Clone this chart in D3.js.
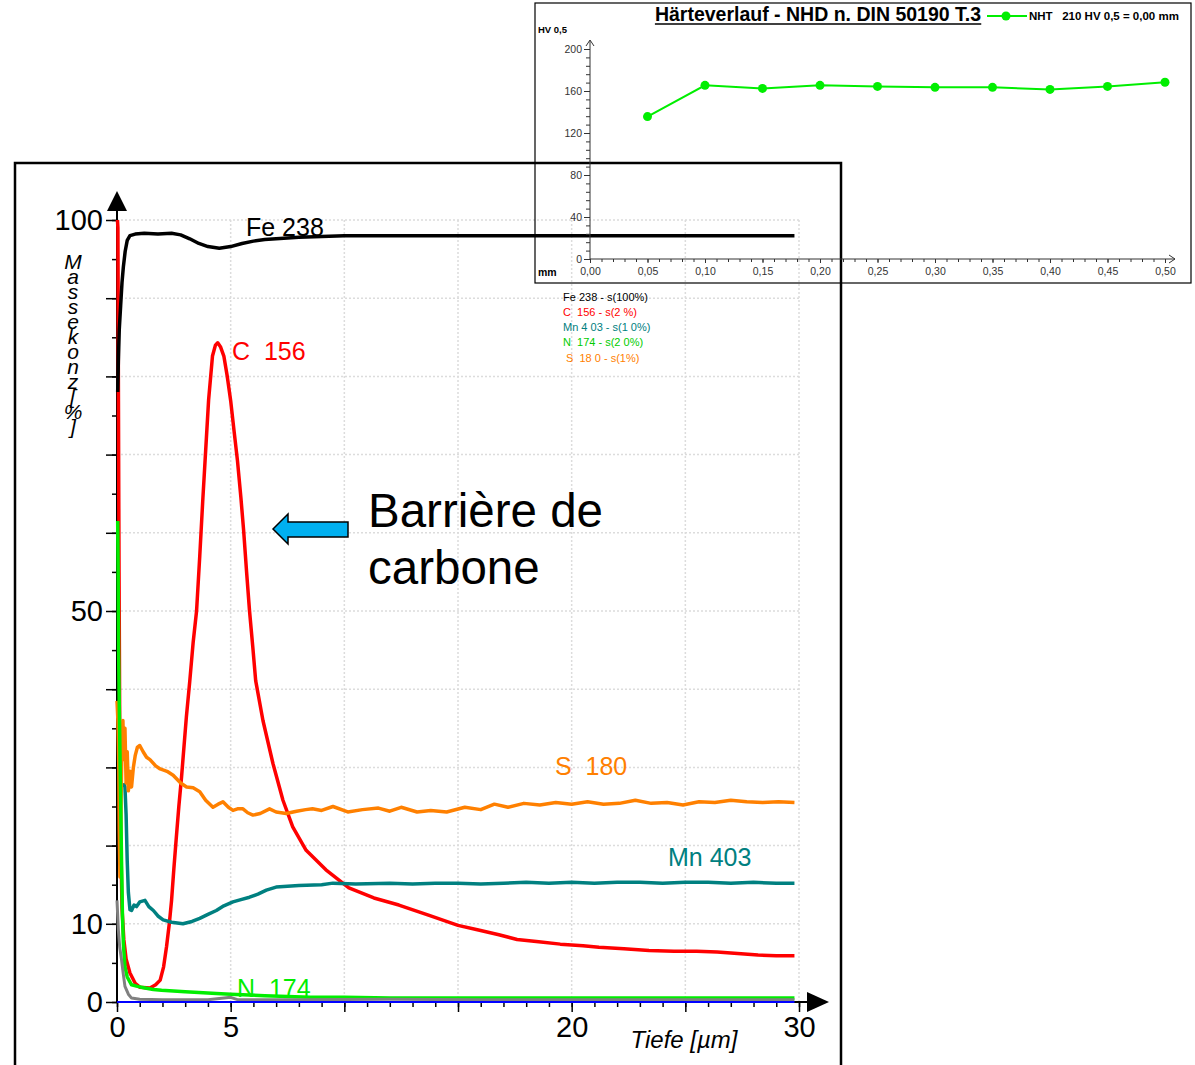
<!DOCTYPE html>
<html>
<head>
<meta charset="utf-8">
<script src="https://cdn.jsdelivr.net/npm/d3@7"></script>
<style>
  body { margin: 0; background: #fff; }
  svg { display: block; font-family: "Liberation Sans", Arial, sans-serif; }
</style>
</head>
<body>
<div id="chart"></div>
<script>
// ---- GDOES depth profile: [depth in µm, mass %] ----
var feData = [[0.03,78],[0.06,82],[0.1,86],[0.16,89],[0.22,92],[0.28,94],[0.36,96],[0.45,97.4],[0.57,98],[0.8,98.2],[1.2,98.3],[1.8,98.2],[2.4,98.3],[2.8,98.1],[3.2,97.6],[3.6,97.0],[4.0,96.6],[4.5,96.4],[5.0,96.6],[5.5,97.0],[6.0,97.3],[6.5,97.5],[7.0,97.6],[8.0,97.8],[9,97.9],[10,98.0],[12,98.0],[15,98.0],[18,98.0],[20,98.0],[25,98.0],[29.8,98.0]];
var cData = [[0.02,100],[0.04,99],[0.06,80],[0.09,55],[0.12,35],[0.16,22],[0.22,12],[0.3,8],[0.4,5.5],[0.57,3.7],[0.8,2.4],[1.0,1.9],[1.45,1.8],[1.7,2.2],[1.9,2.8],[2.05,4.5],[2.18,7.1],[2.3,10],[2.4,13],[2.5,17],[2.6,20.7],[2.72,25],[2.84,28.8],[3.05,36.4],[3.2,41],[3.35,46],[3.5,50],[3.64,57],[3.77,64],[3.9,70.5],[4.03,77],[4.2,82.6],[4.33,84],[4.43,84.3],[4.55,83.8],[4.7,82.6],[4.85,80],[5.0,76.9],[5.15,73],[5.3,69.2],[5.45,64.5],[5.57,60.3],[5.7,55],[5.83,50],[5.97,45.5],[6.1,41.1],[6.42,36],[6.86,30.5],[7.3,25.8],[7.73,22.4],[8.32,19.4],[9.19,16.9],[10.2,14.6],[11.3,13.3],[12.4,12.4],[13.7,11.1],[15.0,9.8],[15.9,9.2],[16.8,8.6],[17.6,8.0],[18.55,7.7],[19.5,7.4],[20.5,7.2],[21.2,7.0],[22.3,6.8],[23.4,6.6],[24.5,6.5],[25.5,6.5],[26.4,6.4],[27.3,6.2],[28.2,6.0],[29,5.9],[29.8,5.9]];
var mnData = [[0.3,28],[0.35,27.5],[0.4,24],[0.45,18],[0.5,14],[0.57,11.8],[0.64,11.7],[0.75,12.4],[0.86,12.2],[1.0,12.8],[1.23,13.0],[1.4,12.2],[1.6,11.7],[1.8,11.0],[2.03,10.5],[2.4,10.2],[2.9,10.0],[3.3,10.3],[3.64,10.7],[4.0,11.2],[4.37,11.7],[4.7,12.3],[5.1,12.8],[5.45,13.1],[5.83,13.4],[6.2,13.8],[6.57,14.3],[7.0,14.7],[7.5,14.8],[8.0,14.9],[9.0,15.0],[9.5,15.2],[10.5,15.1],[12,15.2],[13,15.1],[14,15.2],[15,15.2],[16,15.1],[17,15.2],[18,15.3],[19,15.2],[20,15.3],[21,15.2],[22,15.3],[23,15.3],[24,15.2],[25,15.3],[26,15.3],[27,15.2],[28,15.3],[29,15.2],[29.8,15.2]];
var nData = [[0.03,61.5],[0.05,55],[0.07,45],[0.1,38],[0.15,28],[0.2,18],[0.24,11],[0.28,7.5],[0.35,4.5],[0.45,3.2],[0.64,2.2],[0.9,2.0],[1.23,1.8],[1.6,1.6],[1.96,1.5],[3.0,1.3],[3.6,1.2],[4.37,1.1],[5.0,1.0],[5.8,0.9],[6.5,0.8],[7.5,0.7],[8.5,0.6],[10,0.6],[12,0.5],[15,0.5],[18,0.5],[21,0.5],[24,0.5],[27,0.5],[29.8,0.5]];
var sData = [[0.0,38.5],[0.04,36],[0.08,30],[0.1,22],[0.13,16],[0.17,24],[0.22,33],[0.26,36],[0.3,31],[0.35,35],[0.4,28],[0.45,32],[0.5,27],[0.57,29.5],[0.64,27.5],[0.72,30],[0.8,31.5],[0.9,32.6],[1.0,32.8],[1.15,32.0],[1.3,31.3],[1.45,31.0],[1.7,30.2],[1.9,29.8],[2.2,29.5],[2.47,29.0],[2.8,28.0],[3.06,27.5],[3.35,27.4],[3.64,26.9],[3.9,25.8],[4.22,24.9],[4.45,25.3],[4.66,25.6],[4.9,24.9],[5.1,24.5],[5.3,24.7],[5.54,24.7],[5.75,24.2],[5.98,23.9],[6.3,24.1],[6.71,24.7],[7.0,24.3],[7.44,24.1],[7.9,24.4],[8.3,24.6],[8.6,24.7],[9.0,24.5],[9.5,25.0],[10.15,24.3],[10.8,24.6],[11.5,24.8],[12,24.4],[12.5,24.9],[13.2,24.3],[13.8,24.5],[14.5,24.3],[15.3,24.9],[16,24.6],[16.6,25.3],[17.2,24.9],[17.9,25.4],[18.6,25.2],[19.3,25.5],[20,25.3],[20.7,25.6],[21.4,25.3],[22.1,25.4],[22.8,25.8],[23.5,25.4],[24.2,25.5],[24.9,25.2],[25.6,25.6],[26.3,25.5],[27,25.8],[27.7,25.6],[28.4,25.5],[29.1,25.6],[29.8,25.5]];
var greyData = [[0.0,13],[0.06,9.2],[0.12,7],[0.2,5.4],[0.28,3.5],[0.35,2],[0.5,1],[0.64,0.5],[1,0.35],[2,0.3],[4,0.3],[5,0.6],[5.3,0.3],[8,0.3],[12,0.35],[16,0.3],[20,0.3],[25,0.3],[29.8,0.3]];
var blueData = [[0,0],[29.8,0]];

var yTickLabels = [0, 10, 50, 100];
var xTickLabels = [0, 5, 20, 30];

var legendLabels = ["Fe 238 - s(100%)", "C  156 - s(2 %)", "Mn 4 03 - s(1 0%)", "N  174 - s(2 0%)", " S  18 0 - s(1%)"];
var yLabelLetters = ["M","a","s","s","e","k","o","n","z","[","%","]"];

// ---- hardness profile (inset) ----
var hvDepth = [0.05, 0.10, 0.15, 0.20, 0.25, 0.30, 0.35, 0.40, 0.45, 0.50];
var hvValue = [135.6, 165.4, 162.5, 165.4, 164.4, 163.5, 163.5, 161.5, 164.4, 168.3];

var svg = d3.select("#chart").append("svg")
    .attr("width", 1195)
    .attr("height", 1065);

// main chart scales
var x = d3.scaleLinear().domain([0, 30]).range([117, 799]);
var y = d3.scaleLinear().domain([0, 100]).range([1002, 220]);

// frame
svg.append("rect")
    .attr("x", 15).attr("y", 163)
    .attr("width", 826).attr("height", 1000)
    .attr("fill", "none").attr("stroke", "#000").attr("stroke-width", 2.5);

// gridlines
var grid = svg.append("g").attr("stroke", "#dcdcdc").attr("stroke-width", 1.5).attr("stroke-dasharray", "2,2");
grid.selectAll(".gh").data(d3.range(10, 101, 10)).enter().append("line")
    .attr("x1", x(0)).attr("x2", x(30))
    .attr("y1", function(d) { return y(d); }).attr("y2", function(d) { return y(d); });
grid.selectAll(".gv").data(d3.range(5, 31, 5)).enter().append("line")
    .attr("y1", y(0)).attr("y2", y(100))
    .attr("x1", function(d) { return x(d); }).attr("x2", function(d) { return x(d); });

// axes
var yMinor = svg.append("g").attr("transform", "translate(" + x(0) + ",0)")
    .call(d3.axisLeft(y).tickValues(d3.range(0, 101, 5)).tickSize(5).tickFormat(""));
var yMajor = svg.append("g").attr("transform", "translate(" + x(0) + ",0)")
    .call(d3.axisLeft(y).tickValues(d3.range(0, 101, 10)).tickSize(11).tickPadding(3)
        .tickFormat(function(d) { return yTickLabels.indexOf(d) >= 0 ? d : ""; }));
var xMinor = svg.append("g").attr("transform", "translate(0," + y(0) + ")")
    .call(d3.axisBottom(x).tickValues(d3.range(0, 31, 1)).tickSize(5).tickFormat(""));
var xMajor = svg.append("g").attr("transform", "translate(0," + y(0) + ")")
    .call(d3.axisBottom(x).tickValues(d3.range(0, 31, 5)).tickSize(10).tickPadding(4)
        .tickFormat(function(d) { return xTickLabels.indexOf(d) >= 0 ? d : ""; }));
[yMinor, yMajor, xMinor, xMajor].forEach(function(a) {
    a.select(".domain").remove();
    a.selectAll("line").attr("stroke", "#000").attr("stroke-width", 1.5);
    a.selectAll("text").attr("font-size", 29).attr("font-family", "Liberation Sans").attr("fill", "#000");
});

// axis lines with arrows
svg.append("line").attr("x1", x(0)).attr("x2", x(0)).attr("y1", y(0)).attr("y2", 205)
    .attr("stroke", "#000").attr("stroke-width", 2);
svg.append("path").attr("d", "M117,191L107,211L127,211Z").attr("fill", "#000");
svg.append("line").attr("x1", x(0)).attr("x2", 815).attr("y1", y(0)).attr("y2", y(0))
    .attr("stroke", "#000").attr("stroke-width", 2);
svg.append("path").attr("d", "M829,1002L807,992L807,1012Z").attr("fill", "#000");

// curves
var line = d3.line().x(function(d) { return x(d[0]); }).y(function(d) { return y(d[1]); });
var series = [
    {data: cData, color: "#ff0000", w: 3.5},
    {data: mnData, color: "#008080", w: 3.5},
    {data: sData, color: "#ff8000", w: 3.5},
    {data: nData, color: "#00ee00", w: 3.5},
    {data: feData, color: "#000000", w: 3.5},
    {data: greyData, color: "#808080", w: 3},
    {data: blueData, color: "#0000ff", w: 2}
];
svg.selectAll(".curve").data(series).enter().append("path")
    .attr("class", "curve")
    .attr("d", function(d) { return line(d.data); })
    .attr("fill", "none")
    .attr("stroke", function(d) { return d.color; })
    .attr("stroke-width", function(d) { return d.w; })
    .attr("stroke-linejoin", "round");

// curve labels
var curveLabels = [
    {t: "Fe 238", x: 246, y: 236, c: "#000"},
    {t: "C  156", x: 232, y: 360, c: "#ff0000"},
    {t: "S  180", x: 555, y: 775, c: "#ff8000"},
    {t: "Mn 403", x: 668, y: 866, c: "#008080"},
    {t: "N  174", x: 237, y: 997, c: "#00ee00"}
];
svg.selectAll(".clabel").data(curveLabels).enter().append("text")
    .attr("x", function(d) { return d.x; }).attr("y", function(d) { return d.y; })
    .attr("font-size", 25).attr("fill", function(d) { return d.c; })
    .style("white-space", "pre")
    .text(function(d) { return d.t; });

// axis titles (y title: letters stacked vertically in one text element)
svg.append("text")
    .attr("x", 73).attr("y", 250)
    .attr("font-size", 21).attr("font-style", "italic")
    .style("writing-mode", "vertical-rl")
    .style("text-orientation", "upright")
    .style("letter-spacing", "-8px")
    .text(yLabelLetters.join(""));
svg.append("text").attr("x", 684).attr("y", 1048).attr("text-anchor", "middle")
    .attr("font-size", 24).attr("font-style", "italic").text("Tiefe [µm]");

// small legend
var legColors = ["#000", "#ff0000", "#008080", "#00cc00", "#ff8000"];
svg.selectAll(".leg").data(legendLabels).enter().append("text")
    .attr("x", 563).attr("y", function(d, i) { return [301, 316, 331, 346, 362][i]; })
    .attr("font-size", 11).attr("fill", function(d, i) { return legColors[i]; })
    .style("white-space", "pre")
    .text(function(d) { return d; });

// annotation
svg.append("path")
    .attr("d", "M273,529L288,514L288,522L348,522L348,537L288,537L288,544Z")
    .attr("fill", "#00b0f0").attr("stroke", "#000").attr("stroke-width", 1.5);
svg.append("text").attr("x", 368).attr("y", 527).attr("font-size", 47.5).text("Barrière de");
svg.append("text").attr("x", 368).attr("y", 584).attr("font-size", 47.5).text("carbone");

// ---- inset: hardness profile ----
var inset = svg.append("g").attr("font-family", "'Liberation Sans Narrow', 'Liberation Sans', Arial, sans-serif");
inset.append("rect").attr("x", 535).attr("y", 3).attr("width", 656).attr("height", 280)
    .attr("fill", "none").attr("stroke", "#000").attr("stroke-width", 1.2);

var hx = d3.scaleLinear().domain([0, 0.5]).range([590, 1165]);
var hy = d3.scaleLinear().domain([0, 200]).range([259, 49]);
var comma = function(d) { return d3.format(".2f")(d).replace(".", ","); };

var hyMinor = inset.append("g").attr("transform", "translate(" + hx(0) + ",0)")
    .call(d3.axisLeft(hy).tickValues(d3.range(0, 201, 8)).tickSize(4).tickFormat(""));
var hyMajor = inset.append("g").attr("transform", "translate(" + hx(0) + ",0)")
    .call(d3.axisLeft(hy).tickValues(d3.range(0, 201, 40)).tickSize(6).tickPadding(2));
var hxMinor = inset.append("g").attr("transform", "translate(0," + hy(0) + ")")
    .call(d3.axisBottom(hx).tickValues(d3.range(0, 51, 1).map(function(d) { return d / 100; })).tickSize(3).tickFormat(""));
var hxMajor = inset.append("g").attr("transform", "translate(0," + hy(0) + ")")
    .call(d3.axisBottom(hx).tickValues(d3.range(0, 11, 1).map(function(d) { return d / 20; })).tickSize(4).tickPadding(5).tickFormat(comma));
[hyMinor, hyMajor, hxMinor, hxMajor].forEach(function(a) {
    a.select(".domain").remove();
    a.selectAll("line").attr("stroke", "#333").attr("stroke-width", 1);
    a.selectAll("text").attr("font-size", 10.5).attr("fill", "#333")
        .attr("font-family", "'Liberation Sans Narrow', 'Liberation Sans', Arial, sans-serif");
});
inset.append("line").attr("x1", hx(0)).attr("x2", hx(0)).attr("y1", hy(0)).attr("y2", 41)
    .attr("stroke", "#333").attr("stroke-width", 1);
inset.append("path").attr("d", "M586,46L590,40L594,46").attr("fill", "none").attr("stroke", "#333");
inset.append("line").attr("x1", hx(0)).attr("x2", 1175).attr("y1", hy(0)).attr("y2", hy(0))
    .attr("stroke", "#333").attr("stroke-width", 1);
inset.append("path").attr("d", "M1169,255L1175,259L1169,263").attr("fill", "none").attr("stroke", "#333");

inset.append("text").attr("x", 538).attr("y", 33).attr("font-size", 9.5).attr("font-weight", "bold").text("HV 0,5");
inset.append("text").attr("x", 538).attr("y", 276).attr("font-size", 10.5).attr("font-weight", "bold").text("mm");

var hvPoints = hvDepth.map(function(d, i) { return [d, hvValue[i]]; });
var hvLine = d3.line().x(function(d) { return hx(d[0]); }).y(function(d) { return hy(d[1]); });
inset.append("path").attr("d", hvLine(hvPoints))
    .attr("fill", "none").attr("stroke", "#00ee00").attr("stroke-width", 2);
inset.selectAll(".hv").data(hvPoints).enter().append("circle")
    .attr("cx", function(d) { return hx(d[0]); }).attr("cy", function(d) { return hy(d[1]); })
    .attr("r", 4.5).attr("fill", "#00ee00");

// inset title and legend
var title = inset.append("text").attr("x", 818).attr("y", 21).attr("text-anchor", "middle")
    .attr("font-family", "'Liberation Sans', Arial, sans-serif")
    .attr("font-size", 19.5).attr("font-weight", "bold").text("Härteverlauf - NHD n. DIN 50190 T.3");
var tb = title.node().getBBox();
inset.append("line").attr("x1", tb.x).attr("x2", tb.x + tb.width).attr("y1", 24).attr("y2", 24)
    .attr("stroke", "#000").attr("stroke-width", 1.5);
inset.append("line").attr("x1", 987).attr("x2", 1027).attr("y1", 16).attr("y2", 16)
    .attr("stroke", "#00ee00").attr("stroke-width", 2);
inset.append("circle").attr("cx", 1006).attr("cy", 16).attr("r", 4.5).attr("fill", "#00ee00");
inset.append("text").attr("x", 1029).attr("y", 20).attr("font-size", 11.5).attr("font-weight", "bold")
    .style("white-space", "pre").text("NHT   210 HV 0,5 = 0,00 mm");
</script>
</body>
</html>
